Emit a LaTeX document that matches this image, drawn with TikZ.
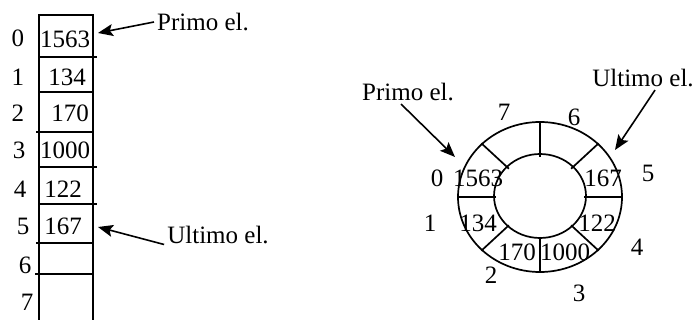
\documentclass[tikz,border=0pt]{standalone}
\usepackage{fontspec}
\setmainfont{Liberation Serif}
\usetikzlibrary{arrows.meta}

\begin{document}
\begin{tikzpicture}[
    x=1pt,
    y=-1pt,
    font=\fontsize{25}{28}\selectfont,
    lab/.style={inner sep=0pt},
    note/.style={inner sep=3pt},
    cellline/.style={line width=2pt},
    ringline/.style={line width=1.7pt},
    arr/.style={-{Stealth[length=15pt,width=12pt,inset=3pt]}, line width=1.6pt}
]
\useasboundingbox (0,0) rectangle (693,320);

% array
\draw[cellline] (39,320) -- (39,15) -- (93,15) -- (93,320);
\foreach \y/\a/\b in {57/39/97, 92/39/93, 132/36/93, 167/39/97, 204/39/97, 243/36/93, 274/35/93}
    \draw[cellline] (\a,\y) -- (\b,\y);

\node[lab] (i0) at (18,38) {0};
\node[lab] (i1) at (18,77) {1};
\node[lab] (i2) at (18,113) {2};
\node[lab] (i3) at (19,150) {3};
\node[lab] (i4) at (20,189) {4};
\node[lab] (i5) at (23,226) {5};
\node[lab] (i6) at (25,265) {6};
\node[lab] (i7) at (27,302) {7};

\node[lab] (v0) at (65,39) {1563};
\node[lab] (v1) at (67,77) {134};
\node[lab] (v2) at (70,113) {170};
\node[lab] (v3) at (65,150) {1000};
\node[lab] (v4) at (63,189) {122};
\node[lab] (v5) at (63,226) {167};

\coordinate (firsttip) at (98,33);
\coordinate (lasttip) at (98,227);
\node[note] (primo1) at (203,22) {Primo el.};
\node[note] (ultimo1) at (218,235) {Ultimo el.};
\draw[arr] (primo1.west) -- (firsttip);
\draw[arr] (ultimo1.190) -- (lasttip);

% ring
\draw[ringline] (540,197) ellipse [x radius=82pt, y radius=75pt];
\draw[ringline] (540,196) ellipse [x radius=46pt, y radius=42pt];
\foreach \a in {0,45,...,315}
    \draw[ringline] ({540+44*cos(\a)},{197-40*sin(\a)}) -- ({540+83*cos(\a)},{197-76*sin(\a)});

\node[lab] (r0) at (437,178) {0};
\node[lab] (r1) at (430,223) {1};
\node[lab] (r2) at (491,275) {2};
\node[lab] (r3) at (579,293) {3};
\node[lab] (r4) at (637,247) {4};
\node[lab] (r5) at (648,173) {5};
\node[lab] (r6) at (574,117) {6};
\node[lab] (r7) at (504,112) {7};

\node[lab] (w0) at (478,178) {1563};
\node[lab] (w1) at (478,223) {134};
\node[lab] (w2) at (517,252) {170};
\node[lab] (w3) at (565,252) {1000};
\node[lab] (w4) at (597,223) {122};
\node[lab] (w5) at (603,178) {167};

\coordinate (headtip) at (455,157);
\coordinate (tailtip) at (615,150);
\node[note] (primo2) at (408,92) {Primo el.};
\node[note] (ultimo2) at (643,78) {Ultimo el.};
\draw[arr] (primo2.240) -- (headtip);
\draw[arr] (ultimo2.-45) -- (tailtip);

\end{tikzpicture}
\end{document}
